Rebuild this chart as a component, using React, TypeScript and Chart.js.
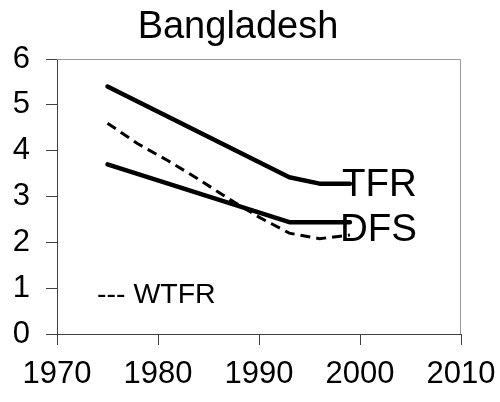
import React, { useEffect, useRef } from "react";
import { Chart, registerables } from "chart.js";

Chart.register(...registerables);

const TITLE = "Bangladesh";
const X_TICKS = [1970, 1980, 1990, 2000, 2010];
const Y_TICKS = [0, 1, 2, 3, 4, 5, 6];

const TFR_YEARS = [1975, 1993, 1996, 1999];
const TFR_VALUES = [5.4, 3.42, 3.28, 3.28];

const DFS_YEARS = [1975, 1993, 1999];
const DFS_VALUES = [3.7, 2.44, 2.44];

const WTFR_YEARS = [1975, 1978, 1981, 1984, 1987, 1990, 1993, 1996, 1999];
const WTFR_VALUES = [4.6, 4.15, 3.78, 3.38, 2.95, 2.55, 2.2, 2.08, 2.16];

const FONT = "'Liberation Sans', Arial, sans-serif";
const AXIS_COLOR = "#404040";

const toPoints = (xs: number[], ys: number[]) => xs.map((x, i) => ({ x, y: ys[i] }));

const textPlugin = {
  id: "texts",
  afterDraw(chart: any) {
    const ctx = chart.ctx;
    const { chartArea } = chart;
    const xs = chart.scales.x;
    ctx.save();
    // frame top and right
    ctx.strokeStyle = "#999999";
    ctx.lineWidth = 1;
    ctx.beginPath();
    ctx.moveTo(chartArea.left, chartArea.top + 0.5);
    ctx.lineTo(chartArea.right - 0.5, chartArea.top + 0.5);
    ctx.lineTo(chartArea.right - 0.5, chartArea.bottom);
    ctx.stroke();

    ctx.fillStyle = "#000";
    ctx.textBaseline = "alphabetic";
    ctx.textAlign = "center";
    ctx.font = `38px ${FONT}`;
    ctx.fillText(TITLE, 238, 38);

    ctx.textAlign = "left";
    ctx.font = `38.5px ${FONT}`;
    const lastX = xs.getPixelForValue(TFR_YEARS[TFR_YEARS.length - 1]);
    ctx.fillText("TFR", lastX - 8, 196);
    ctx.fillText("DFS", lastX - 10, 241);

    ctx.font = `28.5px ${FONT}`;
    ctx.fillText("--- WTFR", 97, 303);
    ctx.restore();
  },
};

export default function App() {
  const ref = useRef<HTMLCanvasElement | null>(null);

  useEffect(() => {
    if (!ref.current) return;
    const chart = new Chart(ref.current, {
      type: "line",
      data: {
        datasets: [
          {
            label: "TFR",
            data: toPoints(TFR_YEARS, TFR_VALUES),
            borderColor: "#000",
            borderWidth: 4.5,
            pointRadius: 0,
            borderCapStyle: "round",
            borderJoinStyle: "round",
            tension: 0,
          },
          {
            label: "DFS",
            data: toPoints(DFS_YEARS, DFS_VALUES),
            borderColor: "#000",
            borderWidth: 4.5,
            pointRadius: 0,
            borderCapStyle: "round",
            borderJoinStyle: "round",
            tension: 0,
          },
          {
            label: "WTFR",
            data: toPoints(WTFR_YEARS, WTFR_VALUES),
            borderColor: "#000",
            borderWidth: 3,
            borderDash: [10, 6],
            pointRadius: 0,
            tension: 0,
          },
        ],
      },
      options: {
        animation: false,
        responsive: false,
        maintainAspectRatio: false,
        layout: { padding: { left: 0, top: 59, right: 39, bottom: 0 } },
        plugins: {
          legend: { display: false },
          title: { display: false },
          tooltip: { enabled: false },
        },
        scales: {
          x: {
            type: "linear",
            min: 1970,
            max: 2010,
            afterBuildTicks: (scale: any) => {
              scale.ticks = X_TICKS.map((v) => ({ value: v }));
            },
            afterFit: (scale: any) => {
              scale.height = 68;
              scale.paddingLeft = 0;
              scale.paddingRight = 0;
            },
            ticks: {
              color: "#000",
              font: { family: FONT, size: 31 },
              padding: 11,
              maxRotation: 0,
              autoSkip: false,
              callback: (v: any) => String(v),
            },
            grid: {
              drawOnChartArea: false,
              drawTicks: true,
              tickLength: 11,
              color: AXIS_COLOR,
            },
            border: { display: true, color: AXIS_COLOR, width: 1 },
          },
          y: {
            type: "linear",
            min: 0,
            max: 6,
            afterBuildTicks: (scale: any) => {
              scale.ticks = Y_TICKS.map((v) => ({ value: v }));
            },
            afterFit: (scale: any) => {
              scale.width = 57;
              scale.paddingTop = 0;
              scale.paddingBottom = 0;
            },
            ticks: {
              color: "#000",
              font: { family: FONT, size: 31 },
              padding: 16,
              autoSkip: false,
              callback: (v: any) => String(v),
            },
            grid: {
              drawOnChartArea: false,
              drawTicks: true,
              tickLength: 11,
              color: AXIS_COLOR,
            },
            border: { display: true, color: AXIS_COLOR, width: 1 },
          },
        },
      },
      plugins: [textPlugin],
    });
    return () => chart.destroy();
  }, []);

  return (
    <div style={{ position: "absolute", left: 0, top: 0, width: 500, height: 402, background: "#fff" }}>
      <canvas ref={ref} width={500} height={402} style={{ display: "block", width: 500, height: 402 }} />
    </div>
  );
}
